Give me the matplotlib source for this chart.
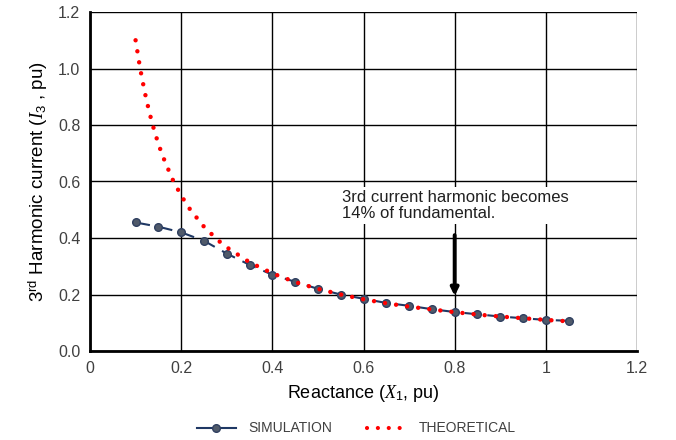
import matplotlib.pyplot as plt
from matplotlib.lines import Line2D
import numpy as np

plt.rcParams['font.family'] = ['Liberation Sans', 'DejaVu Sans']
plt.rcParams['mathtext.fontset'] = 'custom'
plt.rcParams['mathtext.rm'] = 'Liberation Sans'
plt.rcParams['mathtext.it'] = 'Liberation Serif:italic'

# simulation points
sim_x = [0.10, 0.15, 0.20, 0.25, 0.30, 0.35, 0.40, 0.45, 0.50, 0.55,
         0.60, 0.65, 0.70, 0.75, 0.80, 0.85, 0.90, 0.95, 1.00, 1.05]
sim_y = [0.455, 0.440, 0.420, 0.390, 0.345, 0.305, 0.270, 0.245, 0.220, 0.200,
         0.185, 0.170, 0.160, 0.148, 0.138, 0.130, 0.122, 0.116, 0.110, 0.107]

# theoretical curve
th_x = [0.10, 0.11, 0.12, 0.13, 0.14, 0.15, 0.16, 0.18, 0.20, 0.22, 0.25,
        0.28, 0.30, 0.35, 0.40, 0.45, 0.50, 0.55, 0.60, 0.65, 0.70, 0.75,
        0.80, 0.85, 0.90, 0.95, 1.00, 1.05]
th_y = [1.100, 1.000, 0.917, 0.846, 0.786, 0.733, 0.688, 0.611, 0.550, 0.500, 0.440,
        0.393, 0.367, 0.314, 0.275, 0.244, 0.220, 0.200, 0.183, 0.169, 0.157, 0.147,
        0.1375, 0.129, 0.122, 0.116, 0.110, 0.105]

fig = plt.figure(figsize=(6.76, 4.4), dpi=100)
ax = fig.add_axes([90/676, 1-351/440, (637-90)/676, (351-12)/440])

ax.plot(sim_x, sim_y, color='#1F3864', linestyle=(0, (7, 4)), linewidth=1.5,
        marker='o', markersize=5.5, markerfacecolor='#505A6A',
        markeredgecolor='#2F3F60', zorder=3)
ax.plot(th_x, th_y, color='#FF0000', linestyle=(0, (0.01, 2.5)), linewidth=3.2,
        dash_capstyle='round', zorder=4)

ax.set_xlim(0, 1.2)
ax.set_ylim(0, 1.2)
ax.set_xticks(np.arange(0, 1.21, 0.2))
ax.set_yticks(np.arange(0, 1.21, 0.2))
ax.set_xticklabels(['0', '0.2', '0.4', '0.6', '0.8', '1', '1.2'])
ax.set_yticklabels(['0.0', '0.2', '0.4', '0.6', '0.8', '1.0', '1.2'])
ax.tick_params(length=0, labelsize=11.5, labelcolor='#404040', pad=7)
ax.grid(True, color='black', linewidth=1)
for s in ['top', 'right']:
    ax.spines[s].set_visible(False)
for s in ['left', 'bottom']:
    ax.spines[s].set_linewidth(2)

ax.set_xlabel('Reactance ($X_1$, pu)', fontsize=13, labelpad=5)
ax.set_ylabel('3$^{\\mathrm{rd}}$ Harmonic current ($I_3$ , pu)', fontsize=13.5, labelpad=6)

ax.annotate('', xy=(0.8, 0.185), xytext=(0.8, 0.42),
            arrowprops=dict(arrowstyle='-|>', color='black', lw=2.8, mutation_scale=11))
ax.text(0.553, 0.46, '3rd current harmonic becomes\n14% of fundamental.',
        fontsize=12, color='#202020', va='bottom', ha='left', linespacing=1.1,
        bbox=dict(facecolor='white', edgecolor='none', pad=2))

handles = [Line2D([], [], color='#1F3864', linewidth=1.5, marker='o', markersize=5.5,
                  markerfacecolor='#505A6A', markeredgecolor='#2F3F60'),
           Line2D([], [], color='#FF0000', linestyle=(0, (0.01, 2.6)), linewidth=3.0,
                  dash_capstyle='round')]
fig.legend(handles, ['SIMULATION', 'THEORETICAL'], loc='lower center',
           bbox_to_anchor=(0.527, -0.018), ncol=2, frameon=False, fontsize=10,
           handlelength=2.8, handletextpad=0.9, columnspacing=2.5, labelcolor='#404040')

fig.savefig('out.png', dpi=100)
